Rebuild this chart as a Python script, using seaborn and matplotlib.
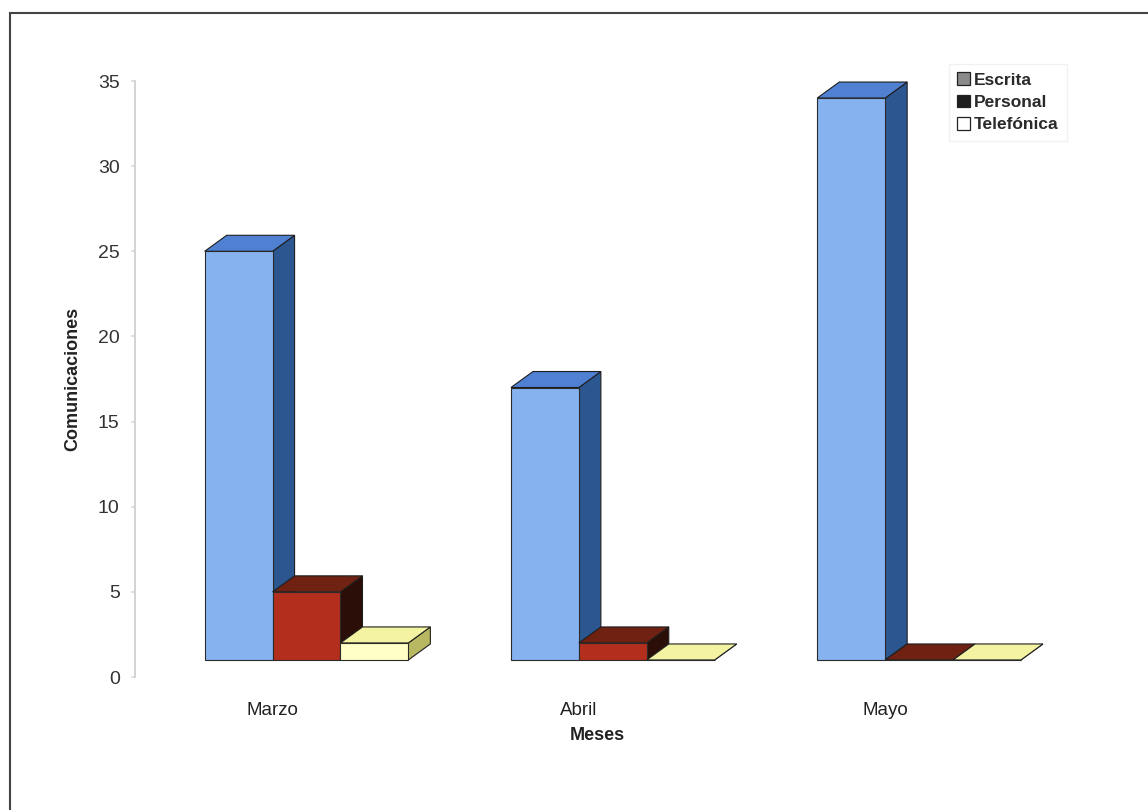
import pandas as pd
import matplotlib.pyplot as plt
import seaborn as sns
import numpy as np
from matplotlib.patches import Polygon, Patch, Rectangle

# ==============================================================
#  DATA
# ==============================================================

meses = ["Marzo", "Abril", "Mayo"]
tipos = ["Escrita", "Personal", "Telefónica"]

escrita = [24, 16, 33]
personal = [4, 1, 0]
telefonica = [1, 0, 0]

df = pd.DataFrame({
    "Mes": meses * 3,
    "Tipo": [t for t in tipos for _ in meses],
    "Comunicaciones": escrita + personal + telefonica,
})

# front / top / side colours for the fake 3D look
front_cols = ["#86b3ef", "#b32e1d", "#ffffc6"]
top_cols = ["#4f80d2", "#6f2212", "#f3f3a2"]
side_cols = ["#2c5690", "#2b0e07", "#b9b862"]
legend_cols = ["#8a8a8a", "#1e1e1e", "white"]

# ==============================================================
#  FIGURE
# ==============================================================

sns.set_theme(style="white")
plt.rcParams["font.family"] = ["Liberation Sans", "DejaVu Sans"]

fig = plt.figure(figsize=(11.48, 8.10), dpi=100)
ax = fig.add_axes([135 / 1148, 1 - 677 / 810, (1060 - 135) / 1148, (677 - 81) / 810])

sns.barplot(
    data=df, x="Mes", y="Comunicaciones", hue="Tipo",
    order=meses, hue_order=tipos, palette=front_cols,
    width=0.665, saturation=1, errorbar=None, legend=False,
    edgecolor="#2a2a2a", linewidth=0.8, ax=ax,
)

ax.set_xlim(-0.56, 2.46)
ax.set_ylim(-1, 34)

# depth of the bars in data units (22 px right, 16 px up)
fig.canvas.draw()
px_x = (ax.transData.transform((1, 0)) - ax.transData.transform((0, 0)))[0]
px_y = (ax.transData.transform((0, 1)) - ax.transData.transform((0, 0)))[1]
dx = 22 / px_x
dy = 16 / px_y

bars = sorted(ax.patches, key=lambda p: p.get_x())
hue_of = {}
for i, t in enumerate(tipos):
    for p in ax.containers[i]:
        hue_of[id(p)] = i

for k, p in enumerate(bars):
    x, w, h = p.get_x(), p.get_width(), p.get_height()
    i = hue_of[id(p)]
    z = 2 + 2 * k
    side = Polygon([(x + w, 0), (x + w + dx, dy), (x + w + dx, h + dy), (x + w, h)],
                   closed=True, facecolor=side_cols[i], edgecolor="#1e1e1e", lw=0.8, zorder=z)
    top = Polygon([(x, h), (x + w, h), (x + w + dx, h + dy), (x + dx, h + dy)],
                  closed=True, facecolor=top_cols[i], edgecolor="#1e1e1e", lw=0.8, zorder=z)
    ax.add_patch(side)
    ax.add_patch(top)
    p.set_zorder(z + 1)

for s in ["top", "right", "bottom", "left"]:
    ax.spines[s].set_visible(False)
ax.set_yticks([])
ax.set_ylabel("")

# x axis
ax.set_xticks(np.arange(len(meses)) - 0.11)
ax.set_xticklabels(meses, fontsize=13.5, color="#222222")
ax.tick_params(axis="x", length=0, pad=18)
ax.set_xlabel("Meses", fontsize=13, fontweight="bold", color="#222222", labelpad=6)

# value axis (the chart's own scale, floor sits one unit lower)
ax2 = ax.twinx()
ax2.set_ylim(0, 35)
ax2.set_yticks(range(0, 36, 5))
ax2.yaxis.tick_left()
ax2.yaxis.set_label_position("left")
for s in ["top", "right", "bottom"]:
    ax2.spines[s].set_visible(False)
ax2.spines["left"].set_color("#cccccc")
ax2.spines["left"].set_linewidth(1.2)
ax2.tick_params(axis="y", length=3, color="#dddddd", labelsize=14, labelcolor="#333333", pad=8)
ax2.set_ylabel("Comunicaciones", fontsize=13, fontweight="bold", color="#222222", labelpad=12)

# legend
handles = [Patch(facecolor=c, edgecolor="#222222", lw=0.9) for c in legend_cols]
leg = fig.legend(
    handles, tipos, loc="upper left", bbox_to_anchor=(940 / 1148, 1 - 55 / 810),
    bbox_transform=fig.transFigure, frameon=True, fancybox=False,
    handlelength=0.75, handleheight=0.75, handletextpad=0.2, labelspacing=0.4,
    borderpad=0.5, prop={"size": 12.5, "weight": "bold"},
)
leg.get_frame().set_edgecolor("#eeeeee")
for t in leg.get_texts():
    t.set_color("#2a2a2a")

# outer frame of the chart
fig.patches.append(Rectangle((10 / 1148, -0.05), 1.1, 1 - 13 / 810 + 0.05,
                             transform=fig.transFigure, fill=False,
                             edgecolor="#444444", lw=1.5))

fig.savefig("out.png", dpi=100)
